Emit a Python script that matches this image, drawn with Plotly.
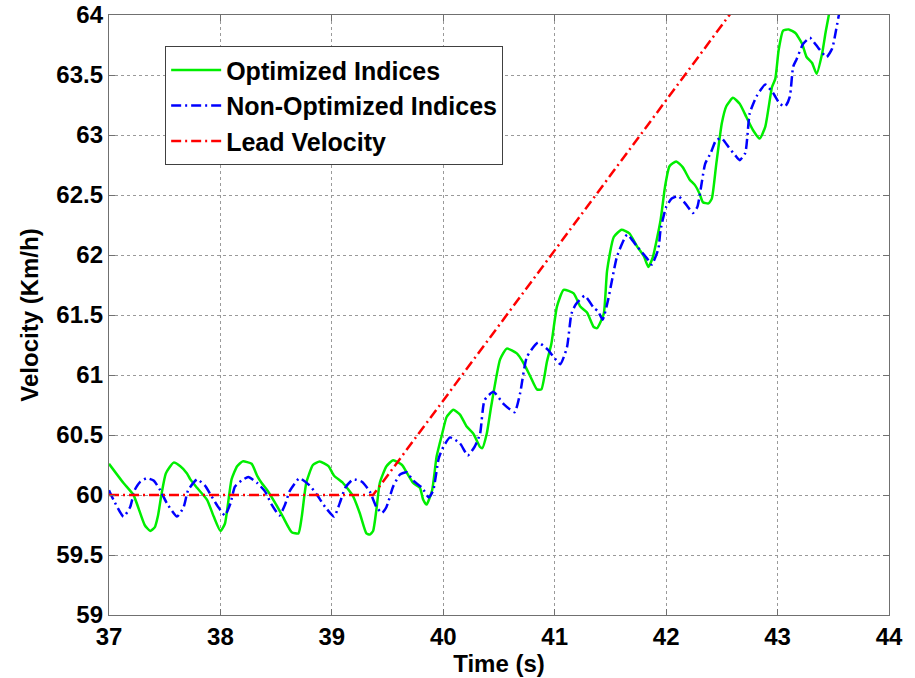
import plotly.graph_objects as go

# Optimized indices controller response
opt_t = [37.00, 37.13, 37.22, 37.32, 37.37, 37.41, 37.44, 37.47, 37.51, 37.58,
         37.64, 37.70, 37.73, 37.79, 37.88, 37.94, 38.00, 38.04, 38.10, 38.15,
         38.20, 38.28, 38.33, 38.37, 38.42, 38.50, 38.56, 38.64, 38.70, 38.73,
         38.77, 38.83, 38.89, 38.97, 39.02, 39.10, 39.19, 39.25, 39.31, 39.34,
         39.37, 39.40, 39.43, 39.49, 39.55, 39.63, 39.67, 39.73, 39.79, 39.82,
         39.85, 39.90, 39.94, 39.99, 40.03, 40.09, 40.15, 40.21, 40.27, 40.33,
         40.35, 40.39, 40.43, 40.51, 40.57, 40.66, 40.72, 40.78, 40.84, 40.88,
         40.93, 40.97, 41.02, 41.08, 41.17, 41.23, 41.29, 41.35, 41.38, 41.44,
         41.47, 41.53, 41.60, 41.67, 41.74, 41.80, 41.84, 41.88, 41.95, 41.99,
         42.03, 42.09, 42.15, 42.21, 42.26, 42.30, 42.33, 42.38, 42.41, 42.45,
         42.50, 42.54, 42.60, 42.66, 42.72, 42.78, 42.84, 42.89, 42.95, 42.98,
         43.01, 43.05, 43.10, 43.16, 43.22, 43.26, 43.31, 43.35, 43.40, 43.43,
         43.46, 43.50]
opt_v = [60.26, 60.10, 60.00, 59.75, 59.70, 59.73, 59.83, 60.00, 60.18, 60.27,
         60.24, 60.18, 60.13, 60.06, 59.96, 59.82, 59.70, 59.76, 60.13, 60.24,
         60.28, 60.26, 60.16, 60.10, 60.04, 59.92, 59.82, 59.69, 59.68, 59.82,
         60.10, 60.25, 60.28, 60.24, 60.16, 60.10, 59.99, 59.85, 59.68, 59.67,
         59.70, 59.88, 60.10, 60.24, 60.29, 60.25, 60.19, 60.10, 60.06, 59.96,
         59.92, 60.04, 60.32, 60.51, 60.65, 60.71, 60.67, 60.57, 60.51, 60.40,
         60.39, 60.51, 60.74, 61.13, 61.22, 61.18, 61.10, 60.99, 60.88, 60.88,
         61.11, 61.26, 61.57, 61.71, 61.68, 61.57, 61.52, 61.40, 61.39, 61.51,
         61.87, 62.15, 62.21, 62.18, 62.07, 61.99, 61.90, 61.98, 62.29, 62.57,
         62.74, 62.78, 62.73, 62.63, 62.58, 62.51, 62.44, 62.43, 62.47, 62.76,
         63.10, 63.24, 63.31, 63.26, 63.15, 63.04, 62.97, 63.07, 63.40, 63.47,
         63.71, 63.87, 63.88, 63.85, 63.76, 63.65, 63.60, 63.51, 63.68, 63.85,
         64.00, 64.25]

# Non-optimized indices controller response
nonopt_t = [37.00, 37.04, 37.13, 37.19, 37.23, 37.28, 37.34, 37.40, 37.46, 37.52,
            37.61, 37.67, 37.71, 37.79, 37.86, 37.92, 37.98, 38.04, 38.09, 38.13,
            38.19, 38.25, 38.33, 38.40, 38.46, 38.53, 38.58, 38.62, 38.71, 38.80,
            38.86, 38.94, 39.02, 39.07, 39.12, 39.19, 39.27, 39.34, 39.40, 39.45,
            39.49, 39.55, 39.61, 39.67, 39.73, 39.81, 39.87, 39.91, 39.96, 40.00,
            40.06, 40.15, 40.22, 40.28, 40.33, 40.37, 40.45, 40.54, 40.64, 40.69,
            40.75, 40.85, 40.94, 40.99, 41.05, 41.11, 41.15, 41.19, 41.27, 41.35,
            41.39, 41.43, 41.48, 41.56, 41.65, 41.74, 41.83, 41.87, 41.93, 41.95,
            42.00, 42.05, 42.11, 42.18, 42.24, 42.28, 42.35, 42.40, 42.45, 42.50,
            42.56, 42.62, 42.66, 42.71, 42.75, 42.81, 42.89, 42.96, 43.02, 43.07,
            43.11, 43.14, 43.17, 43.23, 43.29, 43.37, 43.44, 43.49, 43.53, 43.55,
            43.58]
nonopt_v = [60.04, 59.96, 59.82, 59.90, 60.04, 60.11, 60.14, 60.12, 60.04, 59.93,
            59.82, 59.90, 60.04, 60.13, 60.08, 59.99, 59.90, 59.83, 59.93, 60.07,
            60.12, 60.15, 60.10, 60.03, 59.92, 59.83, 59.92, 60.03, 60.14, 60.08,
            60.01, 59.90, 59.82, 59.93, 60.06, 60.13, 60.11, 60.03, 59.90, 59.85,
            59.90, 60.07, 60.17, 60.19, 60.12, 60.06, 59.98, 60.04, 60.31, 60.40,
            60.48, 60.43, 60.33, 60.40, 60.51, 60.79, 60.86, 60.76, 60.69, 60.85,
            61.15, 61.27, 61.21, 61.15, 61.09, 61.23, 61.51, 61.59, 61.66, 61.56,
            61.53, 61.46, 61.63, 61.99, 62.17, 62.07, 61.97, 61.92, 62.05, 62.21,
            62.40, 62.47, 62.49, 62.42, 62.35, 62.40, 62.76, 62.85, 62.96, 62.97,
            62.90, 62.83, 62.79, 62.85, 63.18, 63.32, 63.42, 63.35, 63.26, 63.24,
            63.32, 63.57, 63.63, 63.76, 63.81, 63.72, 63.65, 63.72, 63.90, 64.00,
            64.15]

# Lead vehicle velocity: constant, then ramp
lead_t = [37.00, 39.37, 42.60]
lead_v = [60.00, 60.00, 64.04]

x_ticks = [37, 38, 39, 40, 41, 42, 43, 44]
y_ticks = [59, 59.5, 60, 60.5, 61, 61.5, 62, 62.5, 63, 63.5, 64]
y_labels = ["59", "59.5", "60", "60.5", "61", "61.5", "62", "62.5", "63", "63.5", "64"]

FONT = "Liberation Sans, Arial, Helvetica, sans-serif"
DASHDOT = "10px,4px,2px,4px"

fig = go.Figure()
fig.add_trace(go.Scatter(x=opt_t, y=opt_v, mode="lines", name="Optimized Indices",
                         line=dict(color="#00ee00", width=2.5, shape="spline", smoothing=0.5)))
fig.add_trace(go.Scatter(x=nonopt_t, y=nonopt_v, mode="lines", name="Non-Optimized Indices",
                         line=dict(color="#0000ff", width=2.5, dash=DASHDOT,
                                   shape="spline", smoothing=0.5)))
fig.add_trace(go.Scatter(x=lead_t, y=lead_v, mode="lines", name="Lead Velocity",
                         line=dict(color="#ff0000", width=2.5, dash=DASHDOT)))

axis_common = dict(
    showline=True, mirror="ticks", linecolor="#707070", linewidth=1.3,
    ticks="inside", ticklen=6, tickcolor="#707070", tickwidth=1.3,
    showgrid=True, gridcolor="#9a9a9a", griddash="dot", gridwidth=1,
    zeroline=False, automargin=False,
    tickfont=dict(family=FONT, size=24, color="black", weight="bold"),
    title_font=dict(family=FONT, size=24, color="black", weight="bold"),
)

fig.update_xaxes(range=[37, 44], tickvals=x_ticks, ticktext=[str(v) for v in x_ticks],
                 title_text="Time (s)", title_standoff=2, **axis_common)
fig.update_yaxes(range=[59, 64], tickvals=y_ticks, ticktext=y_labels,
                 title_text="Velocity (Km/h)", title_standoff=10, **axis_common)

fig.update_layout(
    width=915, height=678,
    margin=dict(l=109, r=26, t=15, b=63),
    paper_bgcolor="white", plot_bgcolor="white",
    showlegend=True,
    legend=dict(
        x=0.072, y=0.948, xanchor="left", yanchor="top",
        bgcolor="white", bordercolor="#404040", borderwidth=1,
        font=dict(family=FONT, size=25, color="black", weight="bold"),
        itemwidth=50, tracegroupgap=0,
    ),
)

fig.write_html("out.html")
